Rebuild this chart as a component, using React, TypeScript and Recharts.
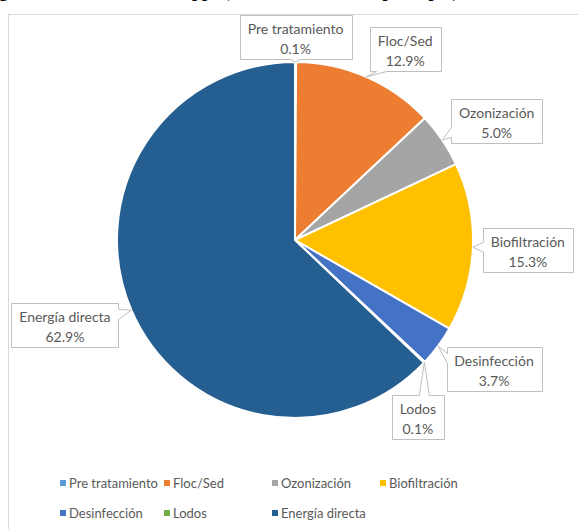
import { Cell, Legend, Pie, PieChart } from "recharts";

// Share of energy use per treatment stage (%), clockwise from 12 o'clock.
const CATEGORIES = [
  "Pre tratamiento",
  "Floc/Sed",
  "Ozonización",
  "Biofiltración",
  "Desinfección",
  "Lodos",
  "Energía directa",
];
const SHARES = [0.1, 12.9, 5.0, 15.3, 3.7, 0.1, 62.9];

// Office palette slots, one per category.
const COLORS = ["#5B9BD5", "#ED7D31", "#A5A5A5", "#FFC000", "#4472C4", "#70AD47", "#255E91"];

// Callout box centre, relative to the slice's outer mid point (dx, dy).
const CALLOUT_OFFSETS: [number, number][] = [
  [0, -25],
  [39, -27.5],
  [54.5, -18.5],
  [55, 3],
  [56, 23],
  [-6.5, 54.5],
  [-66.5, 15],
];

const FONT = "Lato, 'Open Sans', sans-serif";
const TEXT = "#595959";
const RADIAN = Math.PI / 180;

const data = CATEGORIES.map((name, i) => ({ name, value: SHARES[i] }));

let ctx: CanvasRenderingContext2D | null = null;
function textWidth(s: string, size: number) {
  if (!ctx) ctx = document.createElement("canvas").getContext("2d");
  if (!ctx) return s.length * size * 0.5;
  ctx.font = `${size}px ${FONT}`;
  return ctx.measureText(s).width;
}

// Rectangle with a wedge pointing at (tx, ty), drawn as one outline.
function calloutPath(x0: number, y0: number, w: number, h: number, tx: number, ty: number) {
  const x1 = x0 + w;
  const y1 = y0 + h;
  const out = { left: x0 - tx, right: tx - x1, top: y0 - ty, bottom: ty - y1 };
  const side = (Object.keys(out) as (keyof typeof out)[]).reduce((a, b) => (out[b] > out[a] ? b : a));
  const half = 5;
  const bx = Math.min(Math.max(tx, x0 + 6 + half), x1 - 6 - half);
  const by = Math.min(Math.max(ty, y0 + 6 + half), y1 - 6 - half);
  const p: string[] = [`M${x0},${y0}`];
  if (side === "top") p.push(`L${bx - half},${y0}`, `L${tx},${ty}`, `L${bx + half},${y0}`);
  p.push(`L${x1},${y0}`);
  if (side === "right") p.push(`L${x1},${by - half}`, `L${tx},${ty}`, `L${x1},${by + half}`);
  p.push(`L${x1},${y1}`);
  if (side === "bottom") p.push(`L${bx + half},${y1}`, `L${tx},${ty}`, `L${bx - half},${y1}`);
  p.push(`L${x0},${y1}`);
  if (side === "left") p.push(`L${x0},${by + half}`, `L${tx},${ty}`, `L${x0},${by - half}`);
  p.push("Z");
  return p.join(" ");
}

function Callout(props: any) {
  const { cx, cy, midAngle, outerRadius, index, name, value } = props;
  const tx = cx + outerRadius * Math.cos(-midAngle * RADIAN);
  const ty = cy + outerRadius * Math.sin(-midAngle * RADIAN);
  const [dx, dy] = CALLOUT_OFFSETS[index];
  const pct = `${Number(value).toFixed(1)}%`;
  const w = Math.round(Math.max(textWidth(name, 14), textWidth(pct, 14)) + 16);
  const h = 44;
  const bxc = tx + dx;
  const byc = ty + dy;
  const x0 = Math.round(bxc - w / 2) + 0.5;
  const y0 = Math.round(byc - h / 2) + 0.5;
  return (
    <g>
      <path d={calloutPath(x0, y0, w, h, tx, ty)} fill="#fff" stroke="#BFBFBF" strokeWidth={1} />
      <text x={bxc} y={y0 + 12.5} textAnchor="middle" dominantBaseline="central" fill={TEXT} fontSize={14} fontFamily={FONT}>
        {name}
      </text>
      <text x={bxc} y={y0 + 32.5} textAnchor="middle" dominantBaseline="central" fill={TEXT} fontSize={14} fontFamily={FONT}>
        {pct}
      </text>
    </g>
  );
}

function LegendBlock() {
  return (
    <div
      style={{
        display: "grid",
        gridTemplateColumns: "104px 108px 108px 108px",
        gridAutoRows: "30px",
        fontFamily: FONT,
        fontSize: 13,
        color: TEXT,
      }}
    >
      {CATEGORIES.map((c, i) => (
        <div key={c} style={{ display: "flex", alignItems: "center", gap: 3, whiteSpace: "nowrap", gridColumn: i === 6 ? 3 : undefined }}>
          <span style={{ display: "inline-block", width: 6, height: 6, background: COLORS[i] }} />
          {c}
        </div>
      ))}
    </div>
  );
}

export default function App() {
  return (
    <div style={{ position: "relative", width: 578, height: 529, overflow: "hidden", background: "#fff" }}>
      <style>{"body{margin:0;overflow:hidden}"}</style>
      <div
        style={{
          position: "absolute",
          top: -19,
          left: -17,
          whiteSpace: "nowrap",
          fontFamily: "'Liberation Serif', serif",
          fontWeight: "bold",
          fontSize: 18,
          lineHeight: "20px",
          color: "#000",
        }}
      >
        Figura 4. Consumo de las apps (kWh/m³ total de etapa de pH)
      </div>
      <div
        style={{
          position: "absolute",
          left: 8,
          top: 14,
          width: 600,
          height: 540,
          border: "1px solid #D9D9D9",
          boxSizing: "border-box",
        }}
      >
        <PieChart width={569} height={514} margin={{ top: 0, right: 0, bottom: 0, left: 0 }}>
          <Pie
            data={data}
            dataKey="value"
            nameKey="name"
            cx={286}
            cy={225}
            outerRadius={178}
            startAngle={90}
            endAngle={-270}
            stroke="#fff"
            strokeWidth={2}
            label={Callout}
            labelLine={false}
            isAnimationActive={false}
          >
            {data.map((d, i) => (
              <Cell key={d.name} fill={COLORS[i]} />
            ))}
          </Pie>
          <Legend content={() => <LegendBlock />} wrapperStyle={{ left: 51, top: 453, width: 440, bottom: "auto" }} />
        </PieChart>
      </div>
    </div>
  );
}
